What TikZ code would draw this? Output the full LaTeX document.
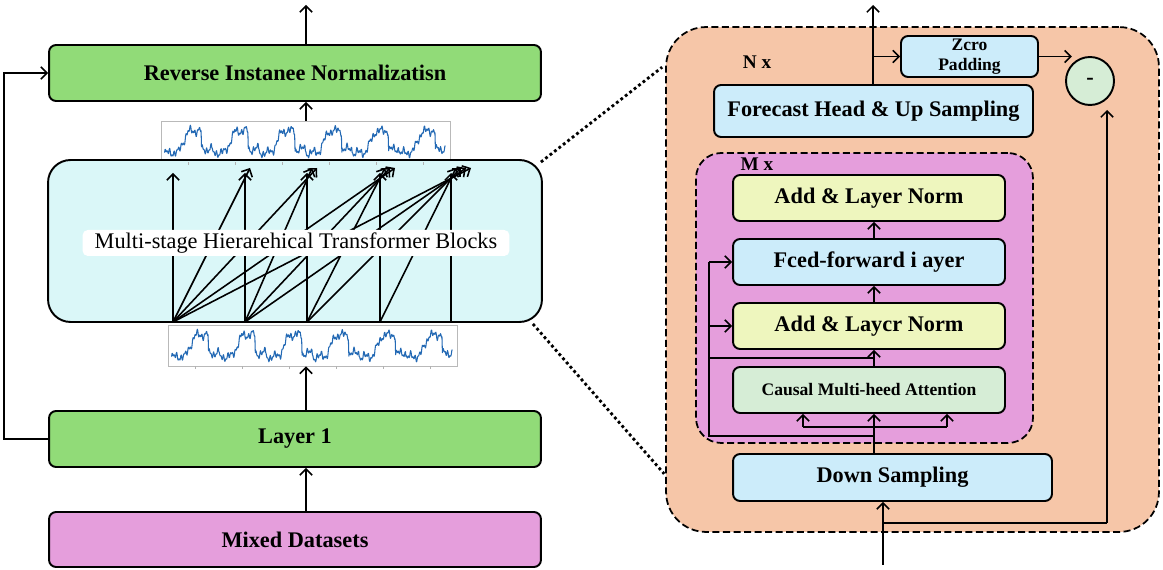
\documentclass[tikz,border=0pt]{standalone}
\usepackage{fontspec}
\setmainfont{Liberation Serif}
\usepackage{tikz}
\usetikzlibrary{arrows.meta, calc}
\definecolor{rinGreen}{RGB}{145,219,120}
\definecolor{stackCyan}{RGB}{218,247,248}
\definecolor{mixPink}{RGB}{229,158,220}
\definecolor{outerPeach}{RGB}{246,198,168}
\definecolor{boxBlue}{RGB}{204,236,250}
\definecolor{normYellow}{RGB}{238,246,190}
\definecolor{attnGreen}{RGB}{214,237,214}
\definecolor{waveBlue}{RGB}{35,105,180}
\tikzstyle{blk}=[draw, line width=1.1pt, rounded corners=4pt, align=center, inner sep=0pt, font=\fontsize{12.7}{14}\selectfont\bfseries]
\tikzstyle{smallblk}=[blk, font=\fontsize{10}{11.5}\selectfont\bfseries]
\tikzstyle{wavebox}=[draw=gray!55, line width=0.5pt, inner sep=0pt, minimum width=5.78cm, minimum height=0.82cm]
\tikzstyle{wave}=[waveBlue, line width=0.6pt, line join=round]
\tikzstyle{arr}=[line width=0.9pt, -{Straight Barb[length=3.5pt,width=7pt]}]
\tikzstyle{ln}=[line width=0.9pt]
\tikzstyle{repeatbox}=[draw, line width=1pt, dash pattern=on 4pt off 2pt, inner sep=0pt]
\tikzstyle{zoomline}=[line width=1.6pt, dash pattern=on 1.6pt off 1.6pt]

\begin{document}
\begin{tikzpicture}[x=0.02cm, y=-0.02cm,
    declare function={ph(\t)=mod(\t,1);
        sig(\t)=(ph(\t)<0.78)*min(max((ph(\t)-0.3)*5,0),1)*0.65+0.15*ph(\t)+0.08*sin(1500*\t)+0.07*sin(4100*ph(\t))+0.06*sin(7300*ph(\t)+20);}]
        \useasboundingbox (0,0) rectangle (1163,570);

        % Left column
        \node[blk, fill=rinGreen, minimum width=9.84cm, minimum height=1.12cm] (rin) at (295,73) {Reverse Instanee Normalizatisn};
        \node[wavebox] (wavetop) at (305.5,141.5) {};
        \node[blk, fill=stackCyan, rounded corners=0.45cm, minimum width=9.88cm, minimum height=3.24cm] (stack) at (295,241) {};
        \node[wavebox] (wavebot) at (312.5,345.5) {};
        \node[blk, fill=rinGreen, minimum width=9.84cm, minimum height=1.12cm] (layer) at (295,439) {Layer 1};
        \node[blk, fill=mixPink, minimum width=9.84cm, minimum height=1.1cm] (mixed) at (295,539.5) {Mixed Datasets};

        % Waveforms
        \foreach \w in {wavetop, wavebot} {
            \begin{scope}[shift={(\w.south west)}]
                \draw[wave] plot[domain=0:6, samples=601] ({4+\x*46.8}, {-4-30*(sig(\x)+0.17)});
                \foreach \k in {0,...,5}
                    \draw[gray!60, line width=0.4pt] ({28+\k*47},0) -- ++(0,3);
            \end{scope}
        }

        % Hierarchical connections
        \foreach \i/\xx in {1/173, 2/245, 3/307, 4/380, 5/451} {
            \coordinate (b\i) at (\xx,322);
            \coordinate (t\i) at (\xx,173);
        }
        \foreach \i in {1,...,5} {
            \foreach \j in {\i,...,5} {
                \draw[arr] (b\i) -- ($(t\j)+({5*(\j-\i)},{-5*min(\j-\i,1)})$);
            }
        }
        \node[fill=white, rounded corners=3pt, inner sep=0pt, minimum width=8.54cm, minimum height=0.52cm, font=\fontsize{12.7}{14}\selectfont] (stacklbl) at (296,243) {Multi-stage Hierarehical Transformer Blocks};

        % Left arrows
        \coordinate (outL) at (306,5);
        \draw[arr] (rin.north -| outL) -- (outL);
        \draw[arr] (wavetop.north -| outL) -- (rin.south -| outL);
        \draw[arr] (layer.north -| outL) -- (wavebot.south -| outL);
        \draw[arr] (mixed.north -| outL) -- (layer.south -| outL);
        \draw[arr] (layer.west) -- ++(-44,0) |- (rin.west);

        % Right column: repeated blocks
        \node[repeatbox, fill=outerPeach, rounded corners=0.8cm, minimum width=9.86cm, minimum height=10.1cm] (nbox) at (912.5,279.5) {};
        \node[repeatbox, fill=mixPink, rounded corners=0.5cm, minimum width=6.74cm, minimum height=5.8cm] (mbox) at (864.5,298) {};
        \node[font=\fontsize{11}{13}\selectfont\bfseries] (nlbl) at (757,62) {N x};
        \node[font=\fontsize{11}{13}\selectfont\bfseries] (mlbl) at (757,164) {M x};

        \node[blk, fill=boxBlue, minimum width=6.38cm, minimum height=1.04cm] (head) at (873.5,111) {Forecast Head \& Up Sampling};
        \node[smallblk, fill=boxBlue, minimum width=2.74cm, minimum height=0.82cm] (zpad) at (969.5,56.5) {Zcro\\Padding};
        \node[draw, circle, line width=1.1pt, fill=attnGreen, minimum size=0.96cm, inner sep=0pt, font=\fontsize{12.7}{14}\selectfont\bfseries] (minus) at (1090,81) {-};
        \node[blk, fill=normYellow, minimum width=5.44cm, minimum height=0.92cm] (norm1) at (869,198) {Add \& Layer Norm};
        \node[blk, fill=boxBlue, minimum width=5.44cm, minimum height=0.92cm] (ffn) at (869,262) {Fced-forward i ayer};
        \node[blk, fill=normYellow, minimum width=5.44cm, minimum height=0.92cm] (norm2) at (869,326) {Add \& Laycr Norm};
        \node[smallblk, fill=attnGreen, minimum width=5.44cm, minimum height=0.92cm] (attn) at (869,390) {Causal Multi-heed Attention};
        \node[blk, fill=boxBlue, minimum width=6.38cm, minimum height=0.94cm] (down) at (892.5,477.5) {Down Sampling};

        % Zoom lines
        \draw[zoomline] ($(stack.north east)+(-2,3)$) -- ($(nbox.north west)+(-3,41)$);
        \draw[zoomline] ($(stack.south east)+(-10,1)$) -- ($(nbox.south west)+(-1,-59)$);

        % Right arrows
        \coordinate (inR) at (883,565);
        \coordinate (outR) at (873,5);
        \coordinate (split) at (874,427);
        \coordinate (res) at (709,436);
        \draw[arr] (inR) -- (down.south -| inR);
        \draw[ln] (inR |- 0,523) -| (1107,523);
        \draw[arr] (1107,523) -- (1107,110);
        \draw[ln] (down.north -| split) -- (split);
        \draw[arr] (split) -- (attn.south -| split);
        \draw[ln] (803,427) -- (947,427);
        \draw[arr] (803,427) -- (attn.south -| 803,0);
        \draw[arr] (947,427) -- (attn.south -| 947,0);
        \draw[ln] (res -| split) -- (res) -- (res |- ffn.west);
        \draw[arr] (res |- ffn.west) -- (ffn.west);
        \draw[arr] (res |- norm2.west) -- (norm2.west);
        \draw[ln] (709,358) -- (874,358);
        \draw[arr] (attn.north -| split) -- (norm2.south -| split);
        \draw[arr] (norm2.north -| split) -- (ffn.south -| split);
        \draw[arr] (ffn.north -| split) -- (norm1.south -| split);
        \draw[arr] (head.north -| outR) -- (outR);
        \draw[arr] (outR |- zpad.west) -- (zpad.west);
        \draw[arr] (zpad.east) -- ++(33,0);
\end{tikzpicture}
\end{document}
